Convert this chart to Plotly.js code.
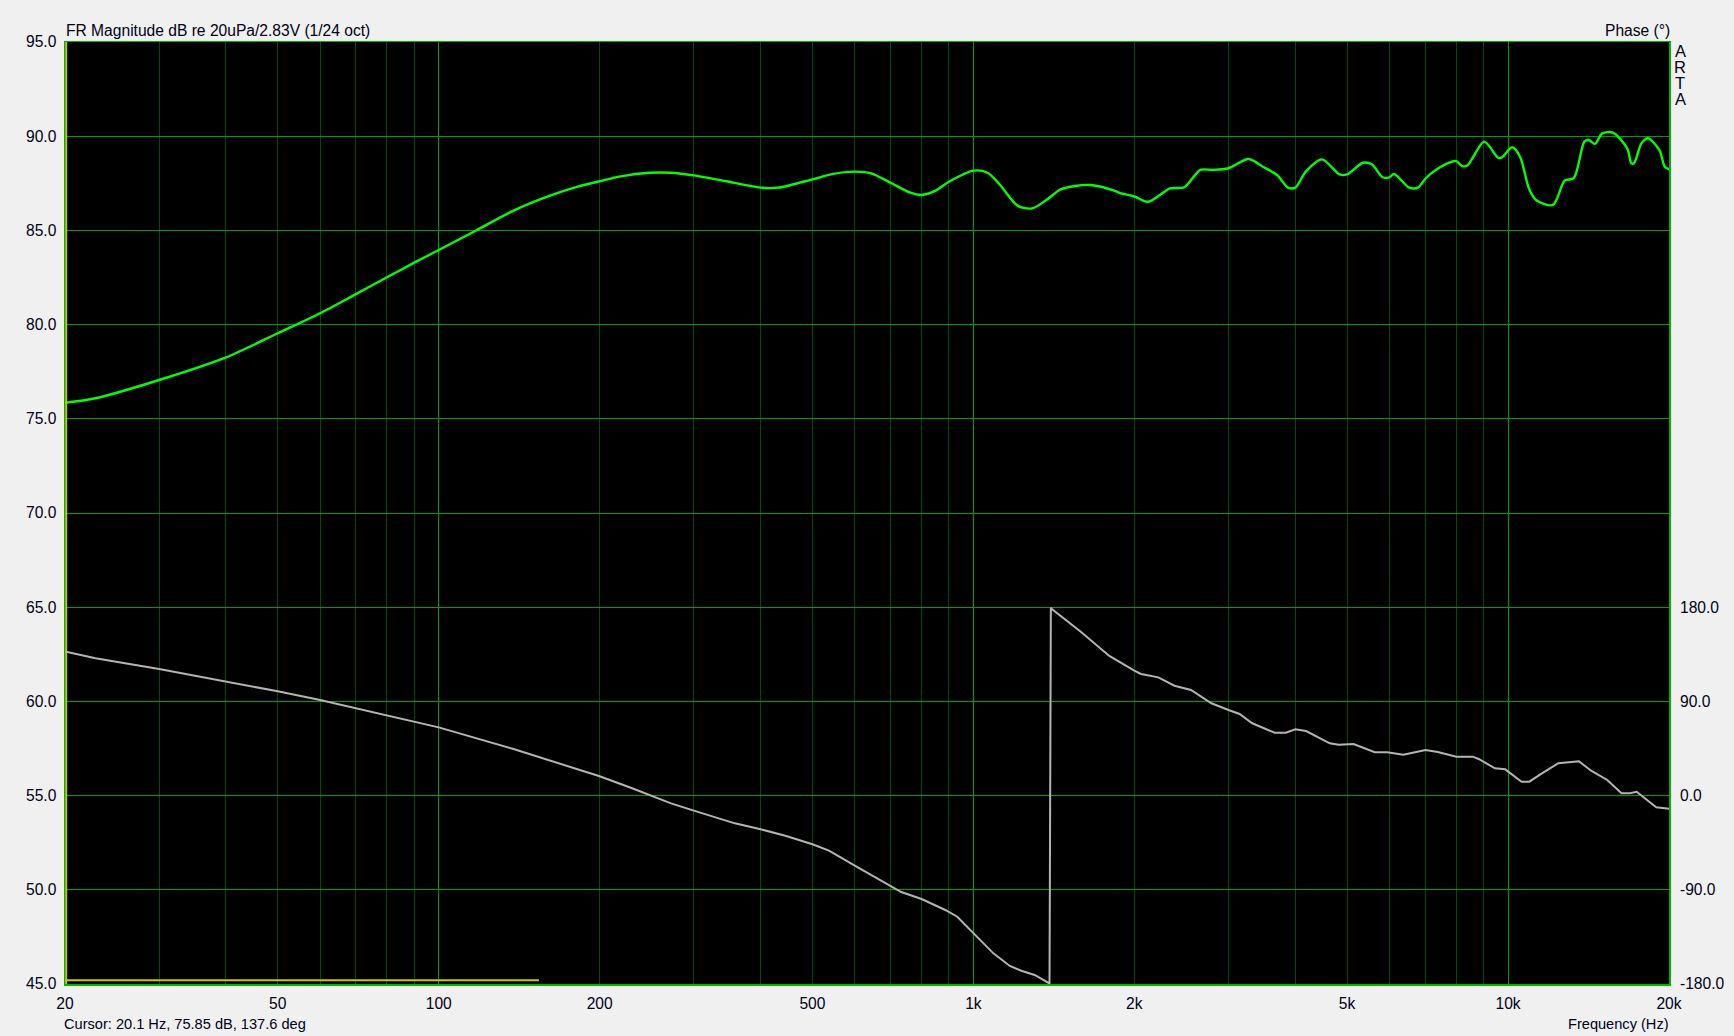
<!DOCTYPE html>
<html>
<head>
<meta charset="utf-8">
<script src="https://cdn.plot.ly/plotly-3.0.1.min.js"></script>
<style>
html,body{margin:0;padding:0;background:#f0f0f0;}
#chart{width:1734px;height:1036px;}
</style>
</head>
<body>
<div id="chart"></div>
<script>
// Magnitude response (dB re 20uPa / 2.83V, 1/24 oct)
const magFreq = [20,22.8,30,40,50,60,70,80,90,100,117,138,161,182,200,219,248,272,300,343,400,432,500,544,600,644,700,763,800,850,900,1000,1063,1122,1211,1288,1369,1456,1549,1660,1835,1881,2000,2120,2233,2332,2480,2658,2806,3000,3271,3479,3700,3876,4000,4184,4484,4842,5000,5354,5563,5825,6000,6120,6536,6780,7000,7250,7739,8000,8191,8384,9025,9572,9720,10177,10530,10940,11280,12130,12760,13270,13890,14150,14540,15000,15710,16700,17010,17200,17760,18260,19180,19640,20000];
const magDb = [75.85,76.09,77.06,78.26,79.54,80.60,81.62,82.51,83.29,83.96,84.97,86.05,86.83,87.32,87.61,87.87,88.06,88.06,87.92,87.62,87.27,87.27,87.71,87.99,88.12,88.03,87.53,87.00,86.88,87.11,87.58,88.17,88.06,87.41,86.30,86.17,86.61,87.18,87.36,87.41,87.11,86.98,86.80,86.52,86.88,87.23,87.29,88.21,88.21,88.30,88.79,88.38,87.94,87.27,87.27,88.12,88.77,87.97,87.97,88.59,88.51,87.82,87.82,87.99,87.27,87.27,87.73,88.12,88.59,88.68,88.43,88.43,89.71,88.86,88.86,89.41,88.91,87.23,86.61,86.35,87.64,87.77,89.71,89.80,89.59,90.15,90.19,89.36,88.56,88.56,89.62,89.89,89.27,88.38,88.24];

// Phase response (degrees)
const phaseFreq = [20,22.8,30,40,50,60,70,80,90,100,138,200,230,272,300,358,400,445,500,537,600,644,700,733,800,886,933,1000,1090,1170,1229,1302,1374,1388,1396,1404,1588,1796,2000,2058,2218,2377,2553,2787,3000,3147,3323,3660,3840,4000,4190,4640,4820,5140,5632,5940,6370,7010,7390,8000,8590,8810,9450,9880,10600,10960,11570,12420,13570,14300,15330,16300,16900,17400,18930,20000];
const phaseDeg = [137.6,131.2,121.0,109.2,99.6,91.3,83.4,76.3,70.6,65.2,44.5,18.5,7.0,-7.4,-14.4,-26.5,-32.2,-38.3,-46.5,-52.6,-67.0,-75.9,-87.0,-92.1,-98.8,-109.3,-115.7,-131.6,-150.7,-162.8,-167.3,-171.4,-178.4,-179.5,179.5,178.0,156.6,133.4,119.3,116.2,113.0,105.0,100.9,88.2,81.8,78.0,69.1,60.1,60.1,63.3,61.7,50.0,48.6,49.3,41.4,41.4,39.1,43.6,41.6,37.2,37.2,35.0,26.1,25.1,13.3,13.3,21.3,30.9,32.8,23.8,14.9,2.2,2.2,3.7,-11.2,-12.5];

// Cursor and gate markers
const cursorFreq = [20.1,20.1];
const cursorDb = [45,95];
const gateFreq = [20,154];
const gateDb = [45.2,45.2];

// Axis ticks
const xTickVals = [20,50,100,200,500,1000,2000,5000,10000,20000];
const xTickText = ['20','50','100','200','500','1k','2k','5k','10k','20k'];
const xMajorGrid = [100,1000,10000];
const xMinorGrid = [30,40,50,60,70,80,90,200,300,400,500,600,700,800,900,2000,3000,4000,5000,6000,7000,8000,9000];
const yTickVals = [45,50,55,60,65,70,75,80,85,90,95];
const yTickText = ['45.0','50.0','55.0','60.0','65.0','70.0','75.0','80.0','85.0','90.0','95.0'];
const phaseTickVals = [-180,-90,0,90,180];
const phaseTickText = ['-180.0','-90.0','0.0','90.0','180.0'];

const FONT = 'Arial, "Liberation Sans", sans-serif';
const FS = 15.6;
const FS_BOTTOM = 14.6;
const TXT = '#000018';
const xr = [Math.log10(20), Math.log10(20000)];

const traces = [
  {x: gateFreq, y: gateDb, xaxis:'x', yaxis:'y', mode:'lines', line:{color:'#c8c800', width:2}, hoverinfo:'skip', showlegend:false},
  {x: magFreq, y: magDb, xaxis:'x', yaxis:'y', mode:'lines', line:{color:'#00ff00', width:2.4, shape:'spline', smoothing:0.8}, name:'Magnitude', showlegend:false},
  {x: cursorFreq, y: cursorDb, xaxis:'x', yaxis:'y', mode:'lines', line:{color:'#c8c800', width:2}, hoverinfo:'skip', showlegend:false},
  {x: phaseFreq, y: phaseDeg, xaxis:'x2', yaxis:'y2', mode:'lines', line:{color:'#b4b4b4', width:2}, name:'Phase', showlegend:false}
];

const letters = 'ARTA'.split('');
const annotations = [
  {text:'FR Magnitude dB re 20uPa/2.83V (1/24 oct)', xref:'paper', yref:'paper', x:0, y:1+12/942, xanchor:'left', yanchor:'middle', xshift:-1, showarrow:false, font:{family:FONT, size:FS, color:TXT}},
  {text:'Phase (°)', xref:'paper', yref:'paper', x:1, y:1+12/942, xanchor:'right', yanchor:'middle', xshift:3, showarrow:false, font:{family:FONT, size:FS, color:TXT}},
  {text:'Cursor: 20.1 Hz, 75.85 dB, 137.6 deg', xref:'paper', yref:'paper', x:0, y:-40/942, xanchor:'left', yanchor:'middle', xshift:-3, showarrow:false, font:{family:FONT, size:FS_BOTTOM, color:TXT}},
  {text:'Frequency (Hz)', xref:'paper', yref:'paper', x:1, y:-40/942, xanchor:'right', yanchor:'middle', xshift:2, showarrow:false, font:{family:FONT, size:FS_BOTTOM, color:TXT}}
];
letters.forEach((c, i) => {
  annotations.push({text:c, xref:'paper', yref:'paper', x:(1680-65)/1604, y:1-(51+16*i-42)/942, xanchor:'center', yanchor:'middle', showarrow:false, font:{family:FONT, size:16.5, color:TXT}});
});

const layout = {
  width:1734, height:1036,
  margin:{l:65, r:65, t:42, b:52, pad:0},
  paper_bgcolor:'#f0f0f0', plot_bgcolor:'#000000',
  showlegend:false,
  font:{family:FONT, size:FS, color:TXT},
  xaxis:{type:'log', range:xr, tickmode:'array', tickvals:xMajorGrid, showticklabels:false, ticks:'',
         showgrid:true, gridcolor:'#00a000', gridwidth:1, zeroline:false,
         showline:true, mirror:true, linecolor:'#00b400', linewidth:1.5,
         minor:{tickmode:'array', tickvals:xMinorGrid, showgrid:true, gridcolor:'#004c00', gridwidth:1, ticks:''}},
  xaxis2:{type:'log', range:xr, overlaying:'x', side:'bottom', tickmode:'array', tickvals:xTickVals, ticktext:xTickText,
          showgrid:false, zeroline:false, showline:false, ticks:'', ticklabelstandoff:8,
          tickfont:{family:FONT, size:FS, color:TXT}},
  yaxis:{range:[45,95], tickmode:'array', tickvals:yTickVals, ticktext:yTickText, showgrid:true, gridcolor:'#009c00', gridwidth:1,
         zeroline:false, showline:true, mirror:true, linecolor:'#00b400', linewidth:1.5, ticks:'', ticklabelstandoff:4,
         tickfont:{family:FONT, size:FS, color:TXT}},
  yaxis2:{range:[-180,720], overlaying:'y', side:'right', tickmode:'array', tickvals:phaseTickVals, ticktext:phaseTickText,
          showgrid:false, zeroline:false, showline:false, ticks:'', ticklabelstandoff:10,
          tickfont:{family:FONT, size:FS, color:TXT}},
  annotations: annotations
};

Plotly.newPlot('chart', traces, layout, {staticPlot:true, displayModeBar:false});
</script>
</body>
</html>
